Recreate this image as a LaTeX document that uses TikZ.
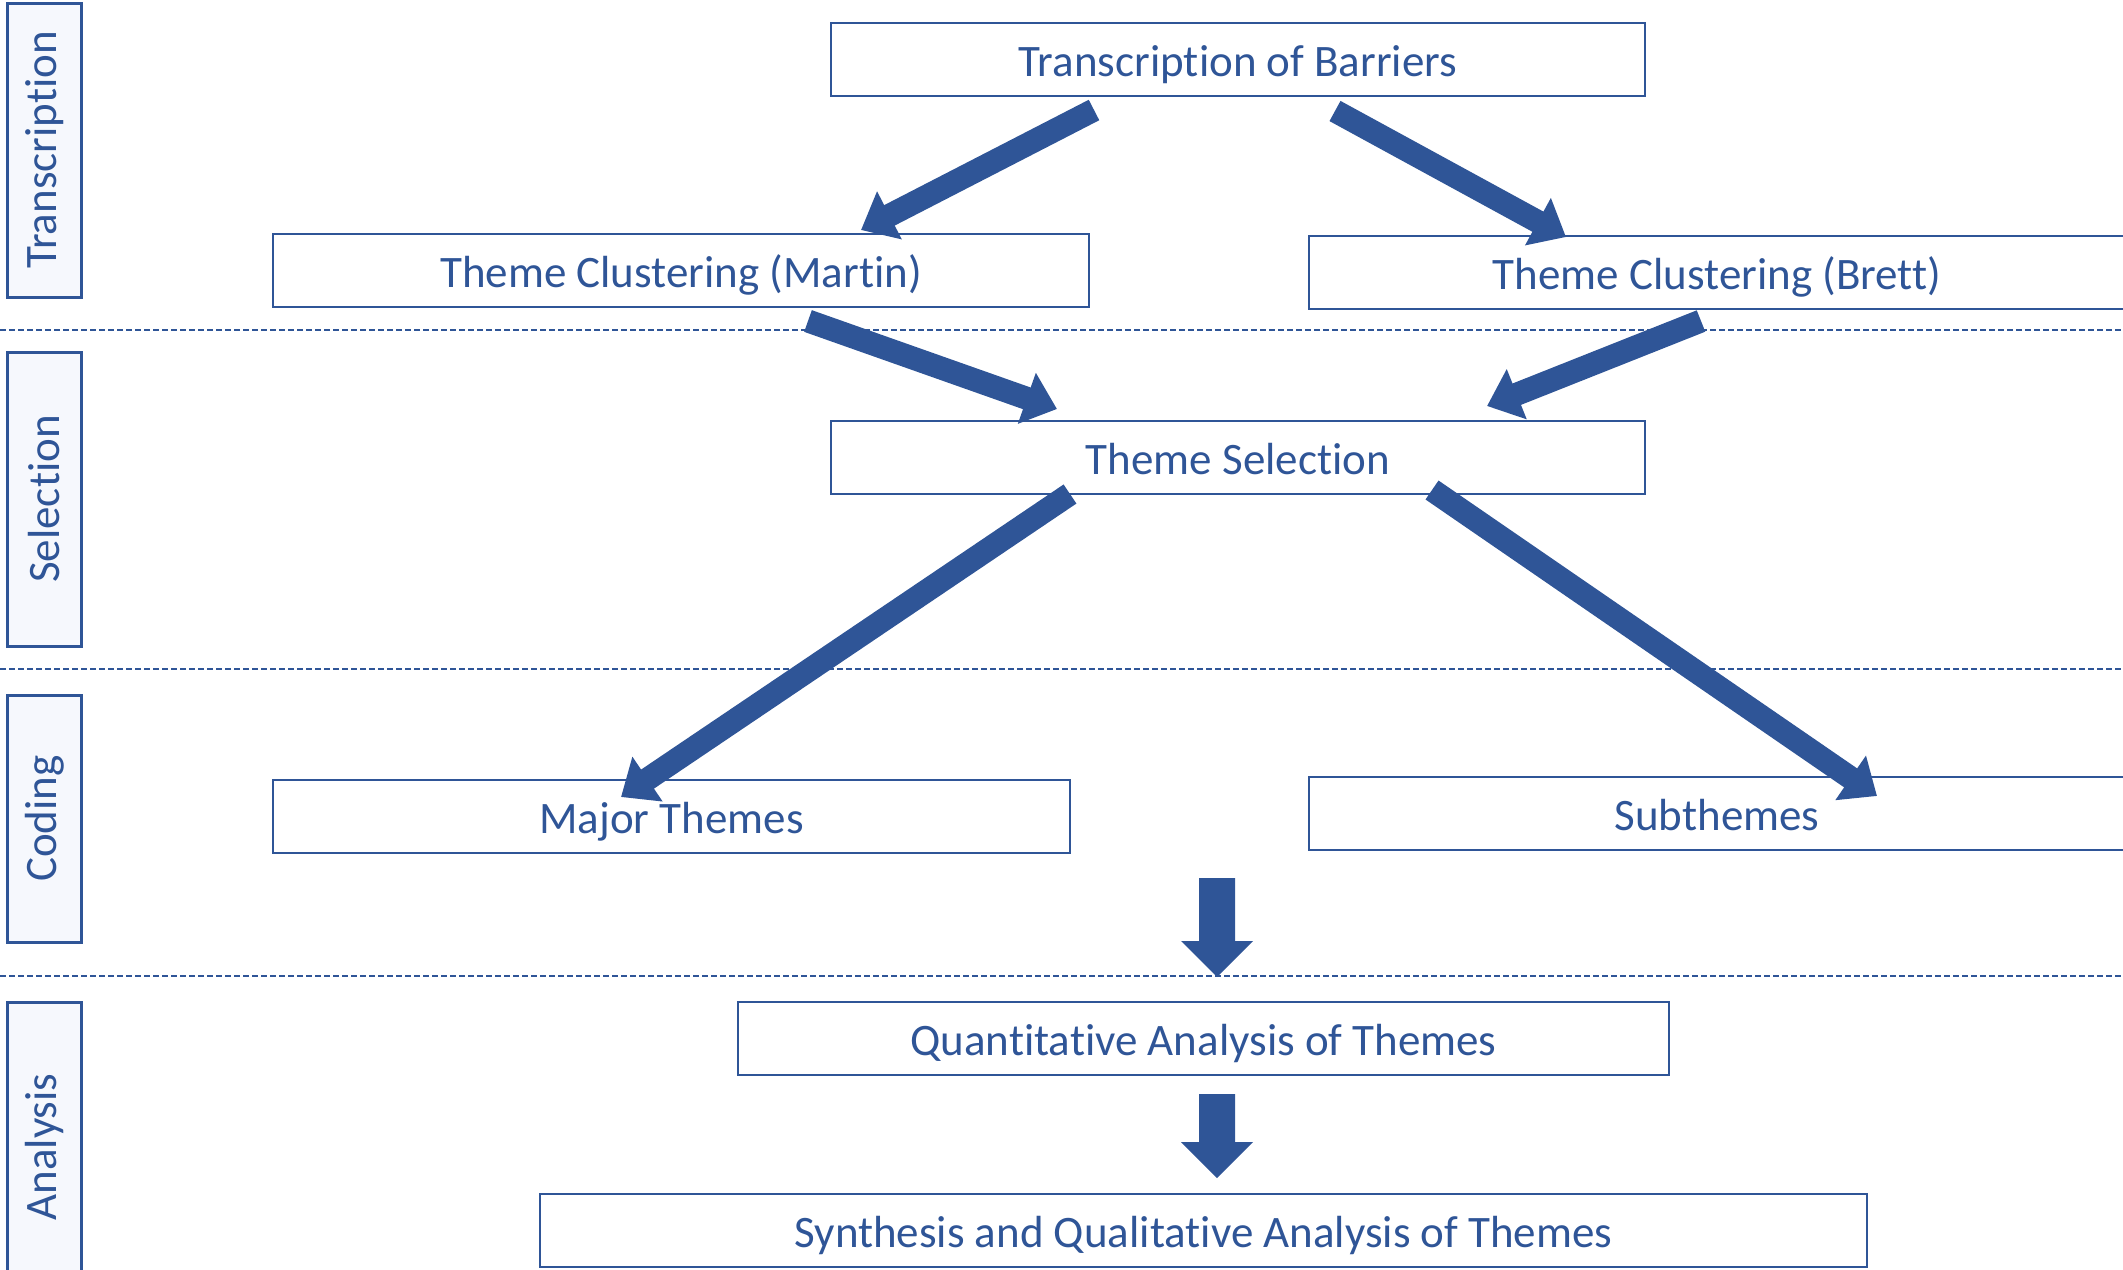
\documentclass[tikz,border=0pt]{standalone}
\usepackage{fontspec}
\setmainfont[Ligatures={NoCommon}]{Carlito}
\usetikzlibrary{arrows.meta}
\definecolor{dblue}{HTML}{2F5597}
\definecolor{lfill}{HTML}{F6F8FD}
\begin{document}
\begin{tikzpicture}[x=1pt,y=-1pt,
  box/.style={draw=dblue,line width=2pt,minimum height=73pt,inner sep=0pt,text height=40pt,text depth=7pt,text=dblue,font=\fontsize{45}{47}\selectfont},
  lab/.style={draw=dblue,line width=3pt,fill=lfill,minimum width=74pt,inner sep=0pt,text=dblue,font=\fontsize{45}{47}\selectfont},
  sep/.style={draw=dblue,line width=2pt,dash pattern=on 6pt off 3pt},
  bigarrow/.style={draw=dblue,line width=23pt,-{Triangle[length=32pt,width=52pt]}},
  blockarrow/.style={fill=dblue}]
\useasboundingbox (0,0) rectangle (2123,1269);
% separators
\draw[sep] (0,330) -- (2123,330);
\draw[sep] (0,669) -- (2123,669);
\draw[sep] (0,976) -- (2123,976);
% stage labels
\node[lab,minimum height=294pt] (lt) at (44.5,150) {\rotatebox{90}{Transcription}};
\node[lab,minimum height=294pt] (ls) at (44.5,499) {\rotatebox{90}{Selection}};
\node[lab,minimum height=247pt] (lc) at (44.5,818.5) {\rotatebox{90}{Coding}};
\node[lab,minimum height=290pt] (la) at (44.5,1147) {\rotatebox{90}{Analysis}};
% boxes
\node[box,minimum width=814pt] (tb) at (1238,59.5) {Transcription of Barriers};
\node[box,minimum width=816pt] (tcm) at (681,270.5) {Theme Clustering (Martin)};
\node[box,minimum width=816pt] (tcb) at (1717,272.5) {Theme Clustering (Brett)};
\node[box,minimum width=814pt] (ts) at (1238,457.5) {Theme Selection};
\node[box,minimum width=797pt] (mt) at (671.5,816.5) {Major Themes};
\node[box,minimum width=816pt] (st) at (1717,813.5) {Subthemes};
\node[box,minimum width=931pt] (qa) at (1203.5,1038.5) {Quantitative Analysis of Themes};
\node[box,minimum width=1327pt] (sq) at (1203.5,1230.5) {Synthesis and Qualitative Analysis of Themes};
% arrow endpoints
\coordinate (a1s) at (1094,110); \coordinate (a1e) at (861,230);
\coordinate (a2s) at (1335,111); \coordinate (a2e) at (1566,237);
\coordinate (a3s) at (808,321);  \coordinate (a3e) at (1057,409);
\coordinate (a4s) at (1701,321); \coordinate (a4e) at (1487,406);
\coordinate (a5s) at (1070,494); \coordinate (a5e) at (621,797);
\coordinate (a6s) at (1432,490); \coordinate (a6e) at (1877,796);
\draw[bigarrow] (a1s) -- (a1e);
\draw[bigarrow] (a2s) -- (a2e);
\draw[bigarrow] (a3s) -- (a3e);
\draw[bigarrow] (a4s) -- (a4e);
\draw[bigarrow] (a5s) -- (a5e);
\draw[bigarrow] (a6s) -- (a6e);
% block arrows
\fill[blockarrow] (1199,878) -- (1235,878) -- (1235,941) -- (1253,941) -- (1217,977) -- (1181,941) -- (1199,941) -- cycle;
\fill[blockarrow] (1199,1094) -- (1235,1094) -- (1235,1142) -- (1253,1142) -- (1217,1178) -- (1181,1142) -- (1199,1142) -- cycle;
\end{tikzpicture}
\end{document}
